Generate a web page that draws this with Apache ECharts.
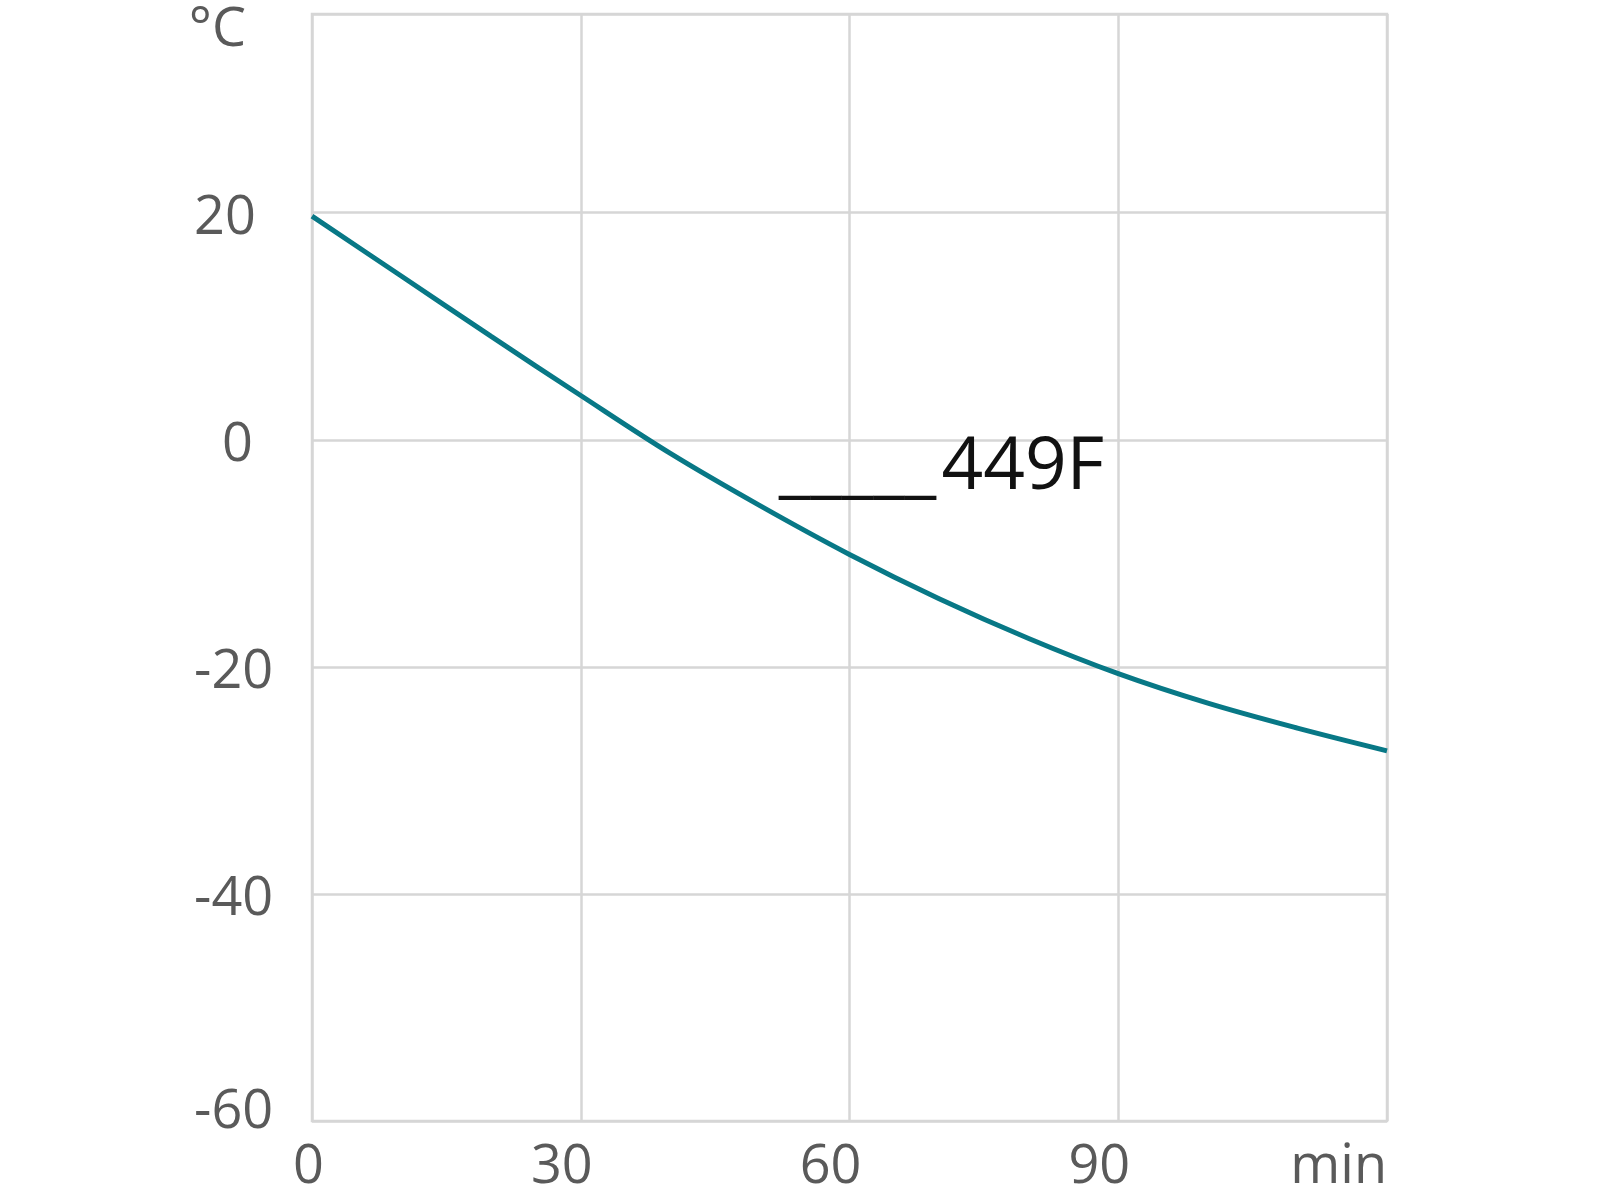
<!DOCTYPE html>
<html>
<head>
<meta charset="utf-8">
<script src="https://cdn.jsdelivr.net/npm/echarts@6/dist/echarts.min.js"></script>
<style>
html,body{margin:0;padding:0;background:#fff;}
#chart{width:1600px;height:1200px;}
</style>
</head>
<body>
<div id="chart"></div>
<script>
// time in minutes
const timeMin = [0, 10, 20, 30, 40, 50, 60, 70, 80, 90, 100, 110, 120];
// temperature in °C
const tempC = [19.7, 14.4, 9.1, 3.9, -1.2, -5.8, -10.1, -14.0, -17.5, -20.6, -23.2, -25.4, -27.4];
const xTicks = [0, 30, 60, 90, 120];
const xTickLabels = ['0', '30', '60', '90', 'min'];
const yTicks = [-60, -40, -20, 0, 20];
const seriesName = '449F';
const seriesLabelAt = [52.1, -2.5];

const gray = '#d6d6d6';
const labelColor = '#5a5a5a';
const font = 'Open Sans';

const chart = echarts.init(document.getElementById('chart'), null, {renderer: 'canvas'});
chart.setOption({
  animation: false,
  backgroundColor: '#fff',
  grid: {
    left: 312, top: 14, right: 213, bottom: 79,
    show: true, borderColor: gray, borderWidth: 2.5, backgroundColor: 'transparent'
  },
  xAxis: {
    type: 'value', min: 0, max: 120, interval: 30,
    axisLine: {show: false},
    axisTick: {show: false},
    splitLine: {show: true, lineStyle: {color: gray, width: 2.5}},
    axisLabel: {
      color: labelColor, fontFamily: font, fontSize: 54, margin: 20,
      align: 'right', padding: [0, -12, 0, 0],
      formatter: v => {
        const i = xTicks.indexOf(v);
        if (i < 0) return '';
        return v === 120 ? '{m|' + xTickLabels[i] + '}' : xTickLabels[i];
      },
      rich: {m: {color: labelColor, fontFamily: font, fontSize: 54, padding: [0, 12, 0, 0]}}
    }
  },
  yAxis: {
    type: 'value', min: -60, max: 37.5, interval: 20,
    name: '°C', nameLocation: 'end', nameGap: -16.5,
    nameTextStyle: {color: labelColor, fontFamily: font, fontSize: 54, align: 'right', verticalAlign: 'middle', padding: [0, 66, 0, 0]},
    axisLine: {show: false},
    axisTick: {show: false},
    splitLine: {show: true, lineStyle: {color: gray, width: 2.5}},
    axisLabel: {
      showMaxLabel: false,
      color: labelColor, fontFamily: font, fontSize: 54, margin: 118, align: 'left',
      padding: [12, 0, 0, 0],
      formatter: v => {
        if (yTicks.indexOf(v) < 0) return '';
        if (v === 0) return '{z|0}';
        if (v === -60) return '{b|-60}';
        return String(v);
      },
      rich: {
        z: {color: labelColor, fontFamily: font, fontSize: 54, padding: [0, 0, 0, 28]},
        b: {color: labelColor, fontFamily: font, fontSize: 54, padding: [0, 0, 28, 0]}
      }
    }
  },
  series: [{
    type: 'line',
    name: seriesName,
    data: timeMin.map((t, i) => [t, tempC[i]]),
    smooth: 0.35,
    showSymbol: false,
    lineStyle: {color: '#087886', width: 5},
    markPoint: {
      symbol: 'circle', symbolSize: 0,
      itemStyle: {color: 'transparent'},
      data: [{coord: seriesLabelAt}],
      label: {
        show: true, position: 'inside', align: 'left', verticalAlign: 'middle',
        formatter: '{u|_____}{t|' + seriesName + '}',
        color: '#111', fontFamily: font, fontSize: 72,
        rich: {
          u: {color: '#111', fontFamily: font, fontSize: 72},
          t: {color: '#111', fontFamily: font, fontSize: 73, padding: [0, 0, 0, 5]}
        }
      }
    }
  }]
});
</script>
</body>
</html>
